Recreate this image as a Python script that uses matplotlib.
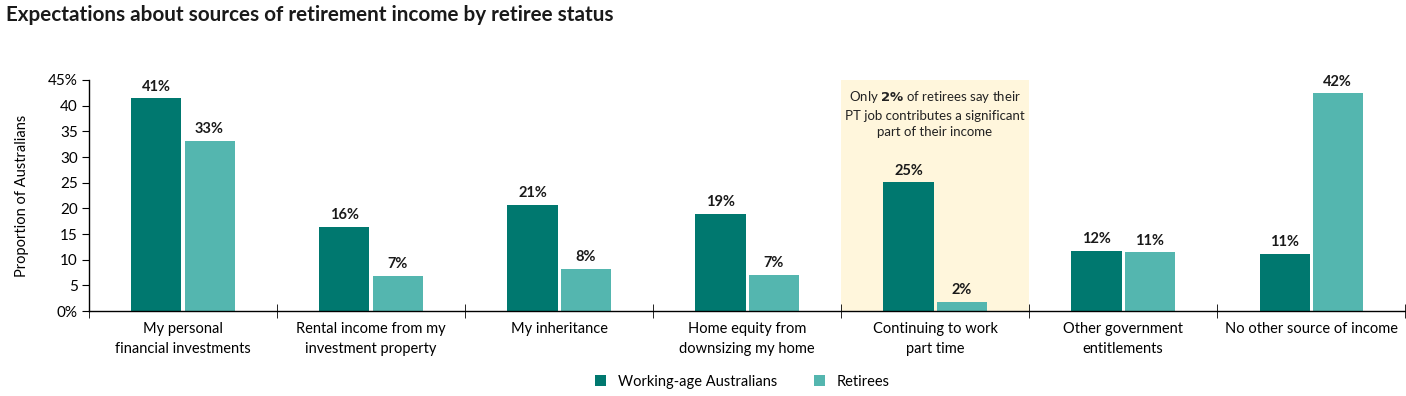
import matplotlib.pyplot as plt
import numpy as np

plt.rcParams['font.family'] = ['Lato', 'DejaVu Sans']

categories = [
    "My personal\nfinancial investments",
    "Rental income from my\ninvestment property",
    "My inheritance",
    "Home equity from\ndownsizing my home",
    "Continuing to work\npart time",
    "Other government\nentitlements",
    "No other source of income",
]
working_age = [41.4, 16.4, 20.7, 18.9, 25.1, 11.7, 11.1]
retirees = [33.1, 6.9, 8.2, 7.1, 1.8, 11.4, 42.4]
working_labels = ["41%", "16%", "21%", "19%", "25%", "12%", "11%"]
retiree_labels = ["33%", "7%", "8%", "7%", "2%", "11%", "42%"]
yticks = [0, 5, 10, 15, 20, 25, 30, 35, 40, 45]
ytick_labels = ["0%", "5", "10", "15", "20", "25", "30", "35", "40", "45%"]

dark = "#00786F"
light = "#54B6AF"

fig = plt.figure(figsize=(14.06, 3.96), dpi=100)
ax = fig.add_axes([0.0633, 0.2146, 0.936, 0.5834])

x = np.arange(len(categories))
w = 0.266
off = 0.141

# highlight box behind "Continuing to work"
ax.axvspan(3.5, 4.5, color="#FFF6DC", zorder=0, lw=0)

b1 = ax.bar(x - off, working_age, w, color=dark, label="Working-age Australians", zorder=2)
b2 = ax.bar(x + off, retirees, w, color=light, label="Retirees", zorder=2)

for rect, lab in zip(b1, working_labels):
    ax.text(rect.get_x() + rect.get_width() / 2, rect.get_height() + 0.9, lab,
            ha="center", va="bottom", fontsize=10.5, fontweight="bold", color="#1a1a1a")
for rect, lab in zip(b2, retiree_labels):
    ax.text(rect.get_x() + rect.get_width() / 2, rect.get_height() + 0.9, lab,
            ha="center", va="bottom", fontsize=10.5, fontweight="bold", color="#1a1a1a")

ax.text(4, 43.2, "Only $\\bf{2\\%}$ of retirees say their\nPT job contributes a significant\npart of their income",
        ha="center", va="top", fontsize=9.5, color="#222222", linespacing=1.45)

ax.set_xlim(-0.5, 6.5)
ax.set_ylim(0, 45)
ax.set_yticks(yticks)
ax.set_yticklabels(ytick_labels, fontsize=11)
ax.set_xticks(x)
ax.set_xticklabels(categories, fontsize=10.5, linespacing=1.5)
ax.tick_params(axis="x", length=0, pad=8)
ax.set_xticks(np.arange(-0.5, 7, 1), minor=True)
ax.tick_params(axis="x", which="minor", direction="inout", length=10)
ax.tick_params(axis="y", length=5, pad=3)

for s in ["top", "right"]:
    ax.spines[s].set_visible(False)
ax.spines["left"].set_linewidth(1)
ax.spines["bottom"].set_linewidth(1)

ax.set_ylabel("Proportion of Australians", fontsize=10.5, labelpad=14)

fig.text(0.004, 0.962, "Expectations about sources of retirement income by retiree status",
         fontsize=14.9, fontweight="bold", ha="left", va="center", color="#1a1a1a")

fig.legend(handles=[b1, b2], loc="center", bbox_to_anchor=(0.528, 0.036), ncol=2,
           frameon=False, fontsize=10.5, handlelength=0.8, handleheight=0.8,
           columnspacing=2.5, handletextpad=0.8)

fig.savefig("out.png", dpi=100)
